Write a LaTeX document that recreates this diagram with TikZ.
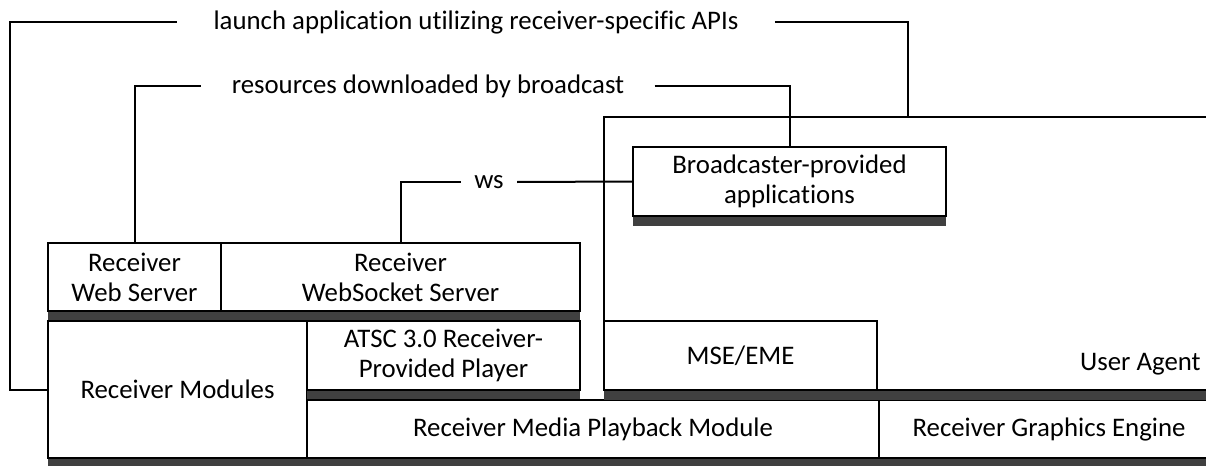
\documentclass[tikz,border=0pt]{standalone}
\usepackage{fontspec}
\setmainfont{Carlito}[Ligatures={NoCommon}]
\usepackage{tikz}
\usetikzlibrary{
  calc,
  positioning,
  shadows
}
\definecolor{shadowgray}{RGB}{64,64,64}

\begin{document}
\begin{tikzpicture}[
  x=0.5pt, y=-0.5pt,
  font=\fontsize{13.4}{15}\selectfont,
  box/.style={draw, line width=1pt, fill=white, align=center,
              inner sep=0pt, outer sep=0pt, anchor=north west,
              drop shadow={shadow xshift=0pt, shadow yshift=-5pt,
                           fill=shadowgray, opacity=1}},
  lbl/.style={inner xsep=18pt, inner ysep=2pt},
  link/.style={line width=1pt}
]
\clip (0,0) rectangle (1206,466);

% Receiver servers
\node[box, minimum width=86.5pt, minimum height=34pt] (webs) at (48,243) {Receiver\\Web Server};
\node[box, minimum width=179.5pt, minimum height=34pt] (wss) at (webs.north east) {Receiver\\WebSocket Server};

% Receiver modules and player
\node[box, minimum width=129.5pt, minimum height=68.5pt] (mods) at ([yshift=-5pt]webs.south west) {Receiver Modules};
\node[box, minimum width=136.5pt, minimum height=34.5pt] (atsc) at (mods.north east) {ATSC 3.0 Receiver-\\Provided Player};
\node[box, minimum width=286pt, minimum height=29pt] (play) at ([yshift=-5pt]atsc.south west) {Receiver Media Playback Module};
\node[box, minimum width=170pt, minimum height=29pt] (gfx) at (play.north east) {Receiver Graphics Engine};

% User agent
\node[box, minimum width=310pt, minimum height=136.5pt] (ua) at (604,117) {};
\node[anchor=base east, inner sep=0pt] (ualbl) at (1201,370) {User Agent};
\node[box, minimum width=136.5pt, minimum height=34.5pt] (mse) at (604,321) {MSE/EME};
\node[box, minimum width=156.5pt, minimum height=34.5pt] (bcast) at (633,147) {Broadcaster-provided\\applications};

% Connector labels
\node[lbl] (launch) at (476,22) {launch application utilizing receiver-specific APIs};
\node[lbl, inner xsep=15pt] (res) at (428,86) {resources downloaded by broadcast};
\node[lbl, inner xsep=6.5pt] (ws) at (489,182) {ws};

\draw[link] (mods.west) -- ++(-19pt,0) |- (launch.west);
\draw[link] (launch.east) -| ([xshift=152pt]ua.north west);
\draw[link] (webs.north) |- (res.west);
\draw[link] (res.east) -| (bcast.north);
\draw[link] (wss.north) |- (ws.west);
\draw[link] (ws.east) -- (bcast.west);

\end{tikzpicture}
\end{document}
